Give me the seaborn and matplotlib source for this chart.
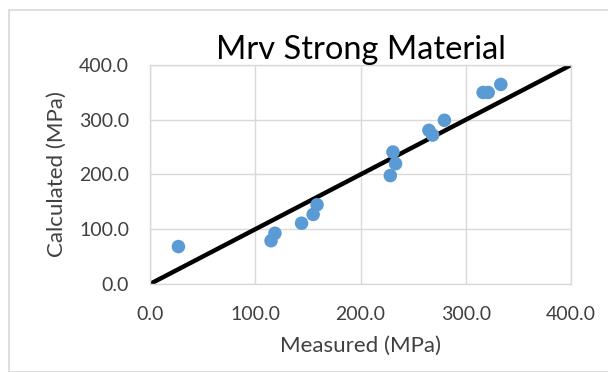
import pandas as pd
import numpy as np
import matplotlib.pyplot as plt
import seaborn as sns
from matplotlib.patches import Rectangle

sns.set_style("white")
plt.rcParams['font.family'] = ['Lato', 'DejaVu Sans']

# Measured vs calculated values (MPa)
measured = [27, 115, 118.7, 144, 155, 158.7, 228.3, 233.3, 230.8, 265, 268.5, 279.7, 316.5, 321.3, 333.3]
calculated = [68.3, 79, 92.7, 111, 127, 144.7, 198, 219.7, 241, 280.7, 272, 299, 349.8, 349.8, 364.5]

# 1:1 line
line_x = [0, 400]
line_y = [0, 400]

ticks = [0, 100, 200, 300, 400]
tick_labels = ["0.0", "100.0", "200.0", "300.0", "400.0"]

data = pd.DataFrame({"Measured": measured, "Calculated": calculated})

fig = plt.figure(figsize=(6.08, 3.72), dpi=100)
ax = fig.add_axes([0.2467, 0.2366, 0.6925, 0.5887])

# outer chart border
fig.patches.append(Rectangle((8.5 / 608, 0), 1, 1 - 10 / 372, transform=fig.transFigure,
                             fill=False, edgecolor="#d9d9d9", linewidth=1.2))

sns.lineplot(x=line_x, y=line_y, ax=ax, color="black", linewidth=3.2, zorder=2)
sns.scatterplot(data=data, x="Measured", y="Calculated", ax=ax, color="#5b9bd5",
                s=95, edgecolor="none", zorder=3)

ax.set_xlim(0, 400)
ax.set_ylim(0, 400)
ax.set_xticks(ticks)
ax.set_yticks(ticks)
ax.set_xticklabels(tick_labels)
ax.set_yticklabels(tick_labels)
ax.grid(True, color="#d9d9d9", linewidth=1)
ax.set_axisbelow(True)
for s in ax.spines.values():
    s.set_color("#d9d9d9")
    s.set_linewidth(1)
ax.tick_params(axis="both", length=0, labelsize=14, colors="#404040")
ax.tick_params(axis="x", pad=16)
ax.tick_params(axis="y", pad=15)

ax.set_xlabel("Measured (MPa)", fontsize=16, color="#404040", labelpad=9)
ax.set_ylabel("Calculated (MPa)", fontsize=16, color="#404040", labelpad=9)
ax.set_title("Mrv Strong Material", fontsize=23.5, color="black", pad=4)

fig.savefig("out.png", dpi=100)
